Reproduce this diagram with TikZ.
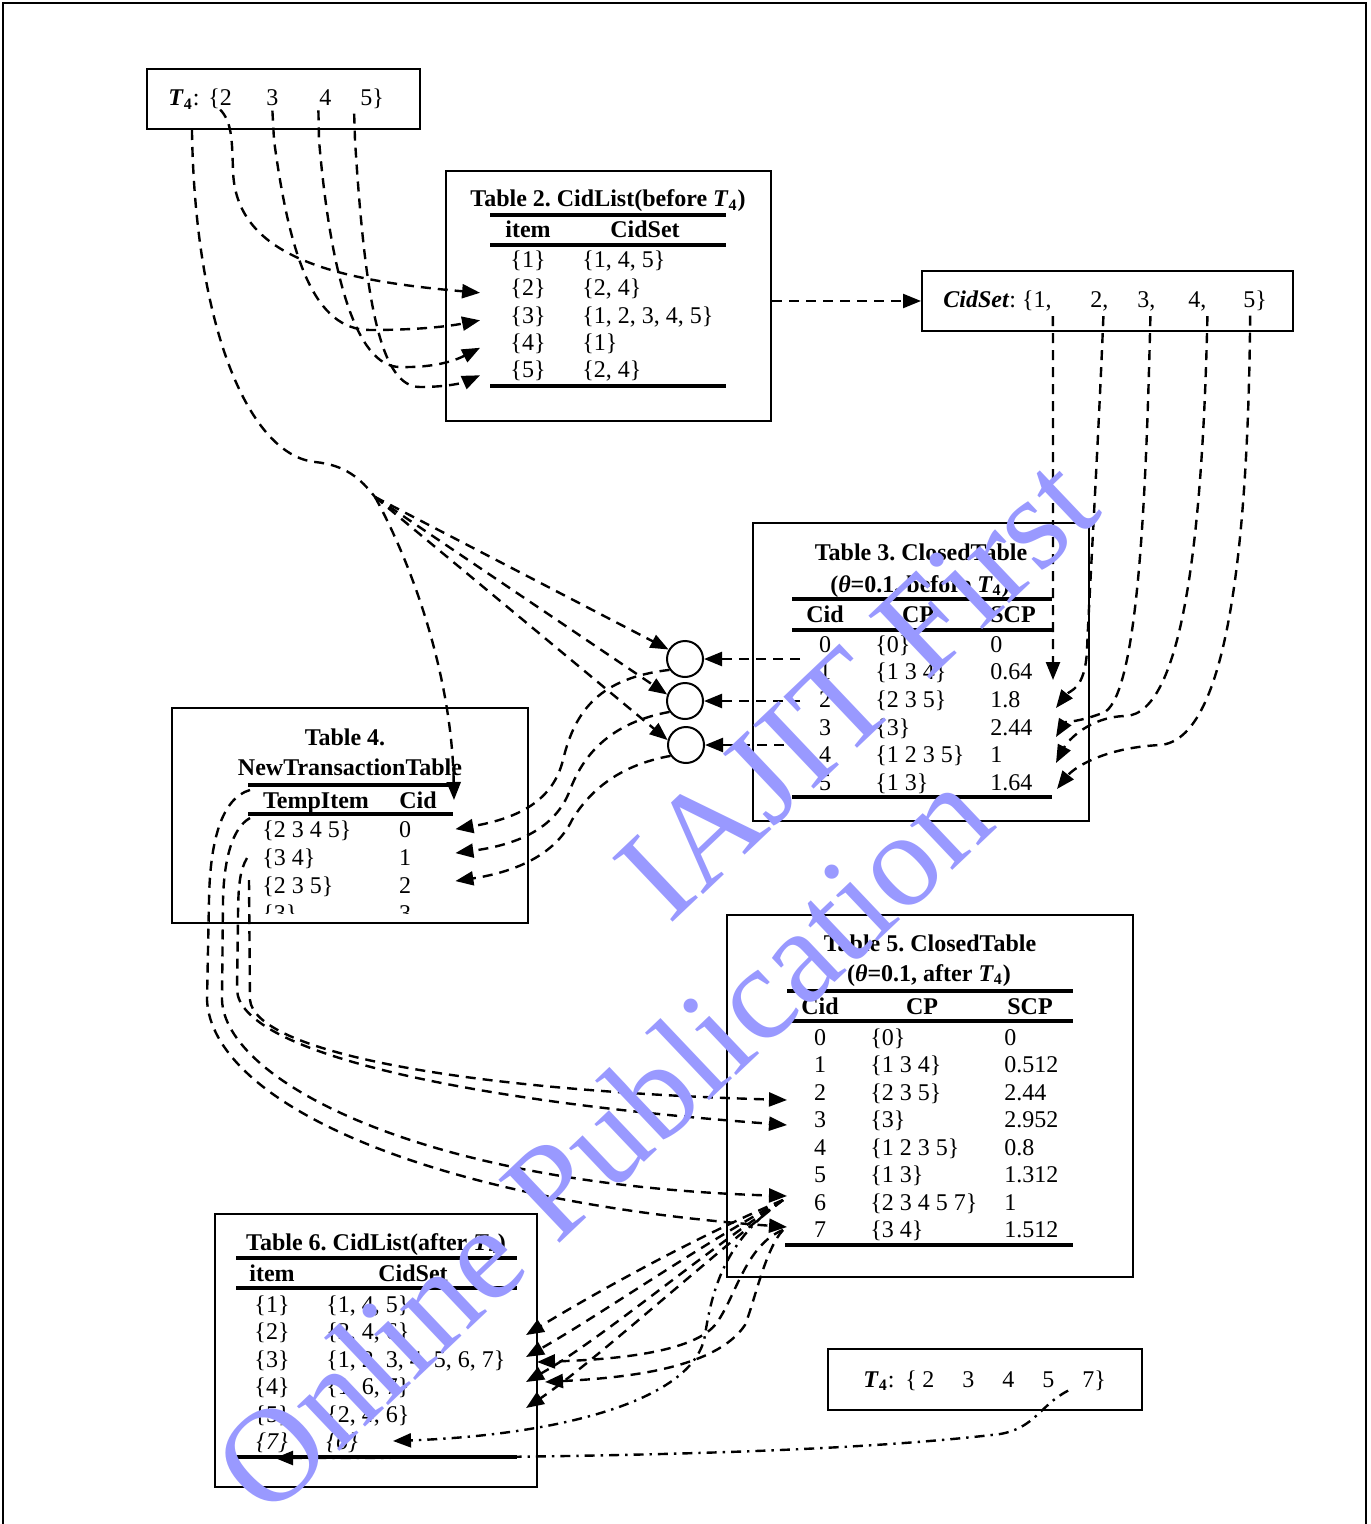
\documentclass[tikz,border=0pt]{standalone}
\usepackage{fontspec}
\setmainfont{Liberation Serif}
\usetikzlibrary{arrows.meta, positioning, fit, calc}
\definecolor{wmBlue}{HTML}{9999FF}
\tikzset{
  tblbox/.style={draw, line width=1pt, inner sep=0pt},
  tblrule/.style={line width=1.7pt},
  cellC/.style={anchor=base, inner sep=0pt, font=\fontsize{12}{14}\selectfont},
  cellL/.style={cellC, anchor=base west},
  ttl/.style={cellC, font=\fontsize{12}{14}\selectfont\bfseries},
  flowline/.style={line width=1.2pt, dash pattern=on 5pt off 3.5pt},
  flow/.style={flowline, -{Triangle[length=9pt,width=7pt]}},
  flowdd/.style={flow, dash pattern=on 5pt off 3pt on 1.2pt off 3pt},
  joint/.style={circle, draw, line width=1pt, minimum size=18pt, inner sep=0pt},
  wmark/.style={text=wmBlue, inner sep=0pt, font=\fontsize{67}{67}\selectfont, rotate=43.5}
}
\newcommand{\Tfour}{\textbf{\textit{T}\textsubscript{4}}}
\frenchspacing

\begin{document}
\begin{tikzpicture}[x=0.5pt, y=-0.5pt]
\useasboundingbox (0,0) rectangle (1370,1524);
\draw[line width=0.9pt] (3,1540) -- (3,3) -- (1366,3) -- (1366,1540);

% transaction T4, before
\node[tblbox, fit={(147,69) (420,129)}] (boxA) {};
\node[cellL] (ta0) at (168,106) {\Tfour:};
\node[cellL] (ta2) at (208,106) {\{2};
\node[cellL] (ta3) at (266,106) {3};
\node[cellL] (ta4) at (319,106) {4};
\node[cellL] (ta5) at (360,106) {5\}};

% Table 2
\node[tblbox, fit={(446,171) (771,421)}] (box2) {};
\node[ttl] (t2title) at (608,207) {Table 2. CidList(before \textit{T}\textsubscript{4})};
\draw[tblrule] (490,215) -- (726,215);
\node[ttl] (t2h1) at (528,238) {item};
\node[ttl] (t2h2) at (645,238) {CidSet};
\draw[tblrule] (490,245) -- (726,245);
\foreach \itm/\cset [count=\i] in {1/{1, 4, 5}, 2/{2, 4}, 3/{1, 2, 3, 4, 5}, 4/{1}, 5/{2, 4}} {
  \node[cellC] (t2i\i) at (528,{268+27.5*(\i-1)}) {\{\itm\}};
  \node[cellL] (t2c\i) at (582,{268+27.5*(\i-1)}) {\{\cset\}};
}
\draw[tblrule] (490,386) -- (726,386);

% CidSet of T4
\node[tblbox, fit={(922,271) (1293,331)}] (boxCS) {};
\node[cellL] (cs1) at (943,308) {\textbf{\textit{CidSet}}: \{1,};
\node[cellL] (cs2) at (1090,308) {2,};
\node[cellL] (cs3) at (1137,308) {3,};
\node[cellL] (cs4) at (1188,308) {4,};
\node[cellL] (cs5) at (1243,308) {5\}};

% Table 3
\node[tblbox, fit={(753,523) (1089,821)}] (box3) {};
\node[ttl] (t3title) at (921,560) {Table 3. ClosedTable};
\node[ttl] (t3sub) at (920,592) {(\textit{θ}=0.1, before \textit{T}\textsubscript{4})};
\draw[tblrule] (792,599) -- (1052,599);
\node[ttl] (t3h1) at (825,622) {Cid};
\node[ttl] (t3h2) at (918,622) {CP};
\node[ttl] (t3h3) at (1013,622) {SCP};
\draw[tblrule] (792,630) -- (1052,630);
\foreach \cid/\cp/\scp [count=\i from 0] in {0/{0}/0, 1/{1 3 4}/0.64, 2/{2 3 5}/1.8, 3/{3}/2.44, 4/{1 2 3 5}/1, 5/{1 3}/1.64} {
  \node[cellC] (t3c\i) at (825,{652+27.7*\i}) {\cid};
  \node[cellL] (t3p\i) at (875,{652+27.7*\i}) {\{\cp\}};
  \node[cellL] (t3s\i) at (990,{652+27.7*\i}) {\scp};
}
\draw[tblrule] (792,797) -- (1052,797);

% join points
\node[joint] (c1) at (685,659) {};
\node[joint] (c2) at (685,701) {};
\node[joint] (c3) at (686,745) {};

% Table 4
\node[tblbox, fit={(172,708) (528,923)}] (box4) {};
\node[ttl] (t4title) at (345,745) {Table 4.};
\node[ttl] (t4name) at (350,775) {NewTransactionTable};
\draw[tblrule] (248,785) -- (453,785);
\node[ttl] (t4h1) at (316,808) {TempItem};
\node[ttl] (t4h2) at (418,808) {Cid};
\draw[tblrule] (248,814) -- (453,814);
\begin{scope}
  \clip (172,700) rectangle (528,913);
  \foreach \tmp/\cid [count=\i from 0] in {{2 3 4 5}/0, {3 4}/1, {2 3 5}/2, {3}/3} {
    \node[cellL] (t4i\i) at (262,{837+28*\i}) {\{\tmp\}};
    \node[cellC] (t4c\i) at (405,{837+28*\i}) {\cid};
  }
\end{scope}

% Table 5
\node[tblbox, fit={(727,915) (1133,1277)}] (box5) {};
\node[ttl] (t5title) at (930,951) {Table 5. ClosedTable};
\node[ttl] (t5sub) at (929,981) {(\textit{θ}=0.1, after \textit{T}\textsubscript{4})};
\draw[tblrule] (787,991) -- (1073,991);
\node[ttl] (t5h1) at (820,1014) {Cid};
\node[ttl] (t5h2) at (922,1014) {CP};
\node[ttl] (t5h3) at (1030,1014) {SCP};
\draw[tblrule] (787,1021) -- (1073,1021);
\foreach \cid/\cp/\scp [count=\i from 0] in {0/{0}/0, 1/{1 3 4}/0.512, 2/{2 3 5}/2.44, 3/{3}/2.952, 4/{1 2 3 5}/0.8, 5/{1 3}/1.312, 6/{2 3 4 5 7}/1, 7/{3 4}/1.512} {
  \node[cellC] (t5c\i) at (820,{1045+27.5*\i}) {\cid};
  \node[cellL] (t5p\i) at (870,{1045+27.5*\i}) {\{\cp\}};
  \node[cellL] (t5s\i) at (1004,{1045+27.5*\i}) {\scp};
}
\draw[tblrule] (785,1245) -- (1073,1245);

% Table 6
\node[tblbox, fit={(215,1214) (537,1487)}] (box6) {};
\node[ttl] (t6title) at (376,1250) {Table 6. CidList(after \textit{T}\textsubscript{4})};
\draw[tblrule] (236,1258) -- (517,1258);
\node[ttl] (t6h1) at (272,1281) {item};
\node[ttl] (t6h2) at (413,1281) {CidSet};
\draw[tblrule] (236,1288) -- (517,1288);
\foreach \itm/\cset [count=\i] in {1/{1, 4, 5}, 2/{2, 4, 6}, 3/{1, 2, 3, 4, 5, 6, 7}, 4/{1, 6, 7}, 5/{2, 4, 6}} {
  \node[cellC] (t6i\i) at (272,{1312+27.5*(\i-1)}) {\{\itm\}};
  \node[cellL] (t6c\i) at (326,{1312+27.5*(\i-1)}) {\{\cset\}};
}
\node[cellC] (t6i7) at (272,1449.5) {\textit{\{7\}}};
\node[cellL] (t6c7) at (326,1449.5) {\textit{\{6\}}};
\draw[tblrule] (236,1457) -- (517,1457);

% transaction T4, after
\node[tblbox, fit={(828,1349) (1142,1410)}] (boxB) {};
\node[cellL] (tb0) at (863,1387) {\Tfour:};
\node[cellL] (tb1) at (905,1387) {\{};
\node[cellL] (tb2) at (922,1387) {2};
\node[cellL] (tb3) at (962,1387) {3};
\node[cellL] (tb4) at (1002,1387) {4};
\node[cellL] (tb5) at (1042,1387) {5};
\node[cellL] (tb7) at (1082,1387) {7\}};

% T4 items -> Table 2
\draw[flow] (ta2.south) .. controls (232,122) and (232,140) .. (233,170) .. controls (235,255) and (330,280) .. ([xshift=-15pt,yshift=-2pt]t2i2.west);
\draw[flow] ([yshift=-2pt]ta3.south) -- (274,140) .. controls (290,260) and (315,330) .. (370,330) .. controls (420,330) and (450,326) .. ([xshift=-15pt,yshift=-2pt]t2i3.west);
\draw[flow] ([xshift=-3.5pt,yshift=-2pt]ta4.south) -- (319,140) .. controls (330,270) and (355,367) .. (400,367) .. controls (440,368) and (460,358) .. ([xshift=-15pt,yshift=-2pt]t2i4.west);
\draw[flow] ([xshift=-9pt,yshift=-2pt]ta5.south) -- (355,140) .. controls (365,300) and (380,387) .. (420,387) .. controls (450,387) and (465,382) .. ([xshift=-15pt,yshift=-2pt]t2i5.west);

% Table 2 -> CidSet -> Table 3
\draw[flow] (box2.east |- boxCS.west) -- (boxCS.west);
\coordinate (sc1) at (1053,680);
\coordinate (sc2) at (1056,708);
\coordinate (sc3) at (1056,737);
\coordinate (sc4) at (1056,763);
\coordinate (sc5) at (1057,789);
\draw[flow] ([xshift=0.5pt,yshift=-2pt]cs1.south east) -- (sc1);
\draw[flow] ([xshift=2pt,yshift=-2pt]cs2.south) .. controls (1098,450) and (1089,600) .. (1087,650) .. controls (1085,690) and (1070,690) .. (sc2);
\draw[flow] ([xshift=2pt,yshift=-2pt]cs3.south) .. controls (1146,500) and (1138,690) .. (1105,712) .. controls (1080,722) and (1065,722) .. (sc3);
\draw[flow] ([xshift=5pt,yshift=-2pt]cs4.south) .. controls (1203,520) and (1185,715) .. (1125,716) .. controls (1090,717) and (1068,740) .. (sc4);
\draw[flow] ([xshift=-2.5pt,yshift=-2pt]cs5.south) .. controls (1248,560) and (1225,740) .. (1160,745) .. controls (1100,748) and (1072,770) .. (sc5);

% T4 -> join points and Table 4
\coordinate (fan) at (375,497);
\coordinate (t4in) at (454,800);
\draw[flowline] ([xshift=4pt]ta0.south |- boxA.south) .. controls (195,330) and (250,455) .. (315,462) .. controls (345,465) and (360,478) .. (fan);
\draw[flow] (fan) -- (c1.150);
\draw[flow] (fan) -- (c2.160);
\draw[flow] (fan) -- (c3.165);
\draw[flow] (fan) .. controls (415,570) and (452,680) .. (t4in);

% Table 3 -> join points -> Table 4
\foreach \j in {1,2,3} {
  \draw[flow] ([xshift=48pt]c\j.east) -- (c\j.east);
}
\draw[flow] (c1.215) .. controls (600,678) and (575,710) .. (563,760) .. controls (553,800) and (520,818) .. ([xshift=22pt]t4c0.east);
\draw[flow] (c2.215) .. controls (615,722) and (585,750) .. (570,790) .. controls (555,830) and (515,845) .. ([xshift=22pt,yshift=2pt]t4c1.east);
\draw[flow] (c3.215) .. controls (620,765) and (590,790) .. (572,820) .. controls (555,855) and (515,872) .. ([xshift=22pt,yshift=2pt]t4c2.east);

% Table 4 -> Table 5
\coordinate (in5r2) at (787,1100);
\coordinate (in5r3) at (787,1125);
\coordinate (in5r6) at (787,1196);
\coordinate (in5r7) at (787,1227);
\draw[flow] (250,790) .. controls (222,798) and (210,840) .. (209,900) -- (207,1000) .. controls (212,1100) and (420,1200) .. (in5r7);
\draw[flow] (250,818) .. controls (232,828) and (224,860) .. (223,900) -- (222,1000) .. controls (225,1080) and (420,1185) .. (in5r6);
\draw[flow] (247,858) .. controls (240,870) and (238,885) .. (238,920) -- (237,990) .. controls (240,1050) and (450,1100) .. (in5r3);
\draw[flow] (249,880) -- (250,1000) .. controls (255,1050) and (450,1090) .. (in5r2);

% Table 5 -> Table 6
\coordinate (o6) at (783,1200);
\coordinate (o7) at (783,1230);
\coordinate (in6r2) at (526,1335);
\coordinate (in6r3) at (526,1357);
\coordinate (in6r3b) at (537,1362);
\coordinate (in6r4) at (526,1382);
\coordinate (in6r4b) at (545,1382);
\coordinate (in6r5) at (526,1408);
\coordinate (in6r7) at (393,1441);
\coordinate (in6bot) at (275,1458);
\draw[flow] (o6) .. controls (700,1235) and (600,1290) .. (in6r2);
\draw[flow] (o6) .. controls (700,1245) and (600,1315) .. (in6r3);
\draw[flow] (o6) .. controls (700,1255) and (600,1340) .. (in6r4);
\draw[flow] (o6) .. controls (700,1265) and (590,1365) .. (in6r5);
\draw[flow] (o7) .. controls (745,1245) and (735,1300) .. (715,1325) .. controls (690,1355) and (600,1360) .. (in6r3b);
\draw[flow] (o7) .. controls (765,1250) and (755,1300) .. (745,1325) .. controls (715,1370) and (620,1378) .. (in6r4b);
\draw[flowdd] (o6) .. controls (725,1240) and (712,1290) .. (705,1335) .. controls (695,1400) and (560,1435) .. (in6r7);
\draw[flowdd] ([xshift=-13pt]tb7.south) .. controls (1040,1405) and (1035,1428) .. (1000,1434) .. controls (850,1452) and (600,1458) .. (in6bot);

% watermark
\node[wmark] (wm1) at (857,688) {IAJIT First};
\node[wmark] (wm2) at (602,1140) {Online Publication};
\end{tikzpicture}
\end{document}
